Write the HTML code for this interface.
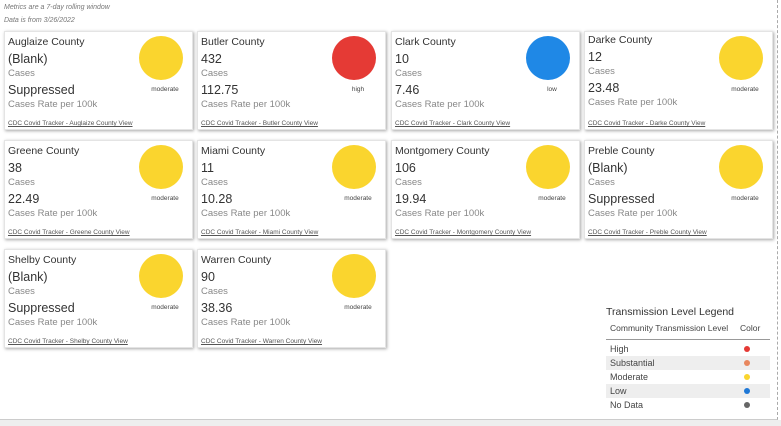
<!DOCTYPE html><html><head><style>
body{margin:0;width:781px;height:426px;background:#fff;font-family:"Liberation Sans",sans-serif;position:relative;overflow:hidden}
.frame{position:absolute;left:0;top:0;width:777px;height:419px;border-right:1px dashed #aaa;border-bottom:1px solid #ccc}
.bot{position:absolute;left:0;top:420px;width:781px;height:6px;background:#eee}
.hdr{position:absolute;left:4px;font-size:7px;font-style:italic;color:#777}
.card{position:absolute;width:187px;height:97px;background:#fff;box-shadow:1px 1px 3px rgba(0,0,0,.35);border:1px solid #e4e4e4}
.card div{position:absolute;white-space:nowrap}
.n{left:3px;top:4px;font-size:10.5px;color:#333}
.v1{left:3px;top:20px;font-size:12.5px;color:#333}
.l1{left:3px;top:36px;font-size:9.5px;color:#888}
.v2{left:3px;top:51px;font-size:12.5px;color:#333}
.l2{left:3px;top:67px;font-size:9.5px;color:#888}
.lk{left:3px;top:88px;font-size:6.5px;color:#555;text-decoration:underline}
.c{left:134px;top:4px;width:44px;height:44px;border-radius:50%}
.t{top:54px;left:140px;width:40px;text-align:center;font-size:6.5px;color:#444}
.Y{background:#fad52e}.R{background:#e53a35}.B{background:#1f88e6}
.leg{position:absolute;left:606px;top:306px;width:164px;font-size:9px;color:#444}
.leg .r{height:14px;line-height:14px;padding-left:4px;position:relative}
.leg .g{background:#eee}
.leg .d{position:absolute;left:138px;top:4px;width:6px;height:6px;border-radius:50%}
</style></head><body>
<div class="frame"></div><div class="bot"></div>
<div class="hdr" style="top:4px">Metrics are a 7-day rolling window</div>
<div class="hdr" style="top:17px">Data is from 3/26/2022</div>

<div class="card" style="left:4px;top:31px"><div class="n">Auglaize County</div><div class="v1">(Blank)</div><div class="l1">Cases</div><div class="v2">Suppressed</div><div class="l2">Cases Rate per 100k</div><div class="lk">CDC Covid Tracker - Auglaize County View</div><div class="c Y"></div><div class="t">moderate</div></div>
<div class="card" style="left:197px;top:31px"><div class="n">Butler County</div><div class="v1">432</div><div class="l1">Cases</div><div class="v2">112.75</div><div class="l2">Cases Rate per 100k</div><div class="lk">CDC Covid Tracker - Butler County View</div><div class="c R"></div><div class="t">high</div></div>
<div class="card" style="left:391px;top:31px"><div class="n">Clark County</div><div class="v1">10</div><div class="l1">Cases</div><div class="v2">7.46</div><div class="l2">Cases Rate per 100k</div><div class="lk">CDC Covid Tracker - Clark County View</div><div class="c B"></div><div class="t">low</div></div>
<div class="card" style="left:584px;top:31px"><div class="n" style="top:2px">Darke County</div><div class="v1" style="top:18px">12</div><div class="l1" style="top:34px">Cases</div><div class="v2" style="top:49px">23.48</div><div class="l2" style="top:65px">Cases Rate per 100k</div><div class="lk">CDC Covid Tracker - Darke County View</div><div class="c Y"></div><div class="t">moderate</div></div>

<div class="card" style="left:4px;top:140px"><div class="n">Greene County</div><div class="v1">38</div><div class="l1">Cases</div><div class="v2">22.49</div><div class="l2">Cases Rate per 100k</div><div class="lk">CDC Covid Tracker - Greene County View</div><div class="c Y"></div><div class="t">moderate</div></div>
<div class="card" style="left:197px;top:140px"><div class="n">Miami County</div><div class="v1">11</div><div class="l1">Cases</div><div class="v2">10.28</div><div class="l2">Cases Rate per 100k</div><div class="lk">CDC Covid Tracker - Miami County View</div><div class="c Y"></div><div class="t">moderate</div></div>
<div class="card" style="left:391px;top:140px"><div class="n">Montgomery County</div><div class="v1">106</div><div class="l1">Cases</div><div class="v2">19.94</div><div class="l2">Cases Rate per 100k</div><div class="lk">CDC Covid Tracker - Montgomery County View</div><div class="c Y"></div><div class="t">moderate</div></div>
<div class="card" style="left:584px;top:140px"><div class="n">Preble County</div><div class="v1">(Blank)</div><div class="l1">Cases</div><div class="v2">Suppressed</div><div class="l2">Cases Rate per 100k</div><div class="lk">CDC Covid Tracker - Preble County View</div><div class="c Y"></div><div class="t">moderate</div></div>

<div class="card" style="left:4px;top:249px"><div class="n">Shelby County</div><div class="v1">(Blank)</div><div class="l1">Cases</div><div class="v2">Suppressed</div><div class="l2">Cases Rate per 100k</div><div class="lk">CDC Covid Tracker - Shelby County View</div><div class="c Y"></div><div class="t">moderate</div></div>
<div class="card" style="left:197px;top:249px"><div class="n">Warren County</div><div class="v1">90</div><div class="l1">Cases</div><div class="v2">38.36</div><div class="l2">Cases Rate per 100k</div><div class="lk">CDC Covid Tracker - Warren County View</div><div class="c Y"></div><div class="t">moderate</div></div>

<div class="leg">
<div style="font-size:10.5px;color:#333;margin-bottom:5px">Transmission Level Legend</div>
<div style="font-size:8.5px;padding-left:4px;padding-bottom:6px;border-bottom:1px solid #999;margin-bottom:2px">Community Transmission Level<span style="position:absolute;left:134px">Color</span></div>
<div class="r">High<span class="d" style="background:#e53a35"></span></div>
<div class="r g">Substantial<span class="d" style="background:#e8875e"></span></div>
<div class="r">Moderate<span class="d" style="background:#fad52e"></span></div>
<div class="r g">Low<span class="d" style="background:#1f78d6"></span></div>
<div class="r">No Data<span class="d" style="background:#666"></span></div>
</div>
</body></html>
